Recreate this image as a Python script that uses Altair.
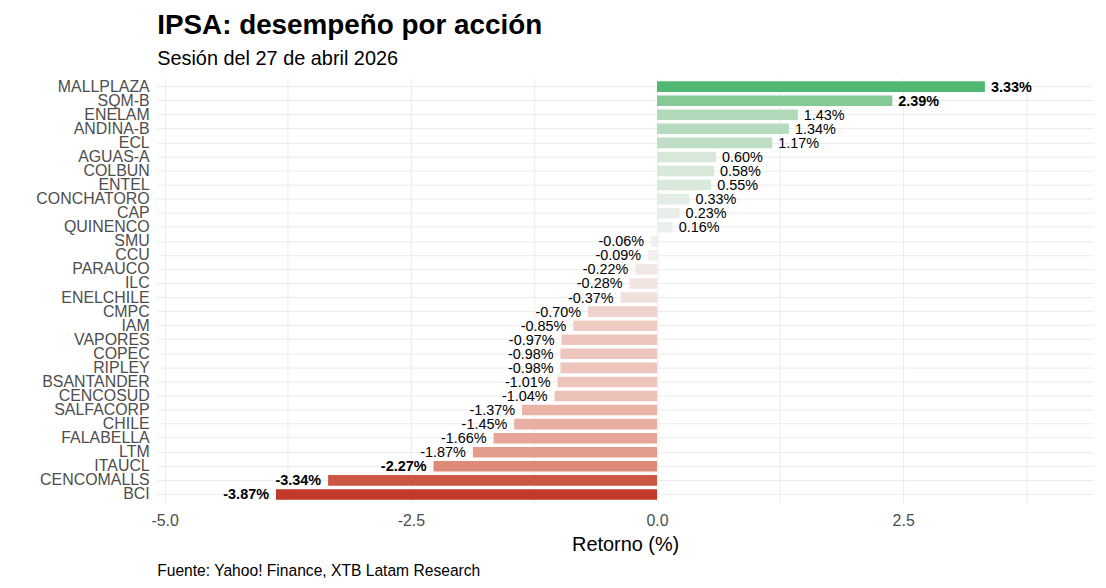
import altair as alt
import pandas as pd

tickers = ["MALLPLAZA", "SQM-B", "ENELAM", "ANDINA-B", "ECL", "AGUAS-A", "COLBUN", "ENTEL",
           "CONCHATORO", "CAP", "QUINENCO", "SMU", "CCU", "PARAUCO", "ILC", "ENELCHILE",
           "CMPC", "IAM", "VAPORES", "COPEC", "RIPLEY", "BSANTANDER", "CENCOSUD",
           "SALFACORP", "CHILE", "FALABELLA", "LTM", "ITAUCL", "CENCOMALLS", "BCI"]
returns = [3.33, 2.39, 1.43, 1.34, 1.17, 0.60, 0.58, 0.55,
           0.33, 0.23, 0.16, -0.06, -0.09, -0.22, -0.28, -0.37,
           -0.70, -0.85, -0.97, -0.98, -0.98, -1.01, -1.04,
           -1.37, -1.45, -1.66, -1.87, -2.27, -3.34, -3.87]
x_ticks = [-5.0, -3.75, -2.5, -1.25, 0.0, 1.25, 2.5, 3.75]

title_text = "IPSA: desempeño por acción"
subtitle_text = "Sesión del 27 de abril 2026"
caption_text = "Fuente: Yahoo! Finance, XTB Latam Research"
x_title = "Retorno (%)"

df = pd.DataFrame({
    "ticker": tickers,
    "ret": returns,
    "label": [f"{v:.2f}%" for v in returns],
})

FONT = "Liberation Sans"
W, H = 941, 427
maxabs = max(abs(v) for v in returns)
lo, hi = min(returns) * 1.2, max(returns) * 1.2
pad = (hi - lo) * 0.05

y_enc = alt.Y("ticker:N", sort=tickers,
              scale=alt.Scale(paddingInner=0.25, paddingOuter=0.225),
              axis=alt.Axis(title=None, ticks=False, domain=False, grid=True,
                            bandPosition=0.5, gridColor="#EBEBEB", gridWidth=1,
                            labelColor="#4D4D4D", labelFontSize=16, labelFont=FONT,
                            labelPadding=8))
x_enc = alt.X("ret:Q",
              scale=alt.Scale(domain=[lo - pad, hi + pad], nice=False, zero=False),
              axis=alt.Axis(values=x_ticks, title=x_title, ticks=False, domain=False,
                            grid=True, gridColor="#EBEBEB", gridWidth=1,
                            labelExpr="abs(datum.value % 2.5) < 0.001 ? replace(format(datum.value, '.1f'), '\u2212', '-') : ''",
                            labelColor="#4D4D4D", labelFontSize=16, labelFont=FONT,
                            labelPadding=10, titleFont=FONT, titleFontSize=20,
                            titleFontWeight="normal", titleColor="black", titlePadding=6))

base = alt.Chart(df)

bars = base.mark_bar().encode(
    x=x_enc, y=y_enc,
    color=alt.Color("ret:Q", legend=None,
                    scale=alt.Scale(domain=[-maxabs, 0, maxabs],
                                    range=["#C0392B", "#F2F2F2", "#27AE60"],
                                    interpolate="lab")),
)

def lbl(filt, align, dx, weight):
    return base.mark_text(align=align, baseline="middle", dx=dx, dy=1, fontSize=14.5,
                          font=FONT, fontWeight=weight, color="black").encode(
        x="ret:Q", y=alt.Y("ticker:N", sort=tickers), text="label:N"
    ).transform_filter(filt)

t1 = lbl("datum.ret >= 0 && abs(datum.ret) <= 2", "left", 6, "normal")
t2 = lbl("datum.ret >= 0 && abs(datum.ret) > 2", "left", 6, "bold")
t3 = lbl("datum.ret < 0 && abs(datum.ret) <= 2", "right", -7, "normal")
t4 = lbl("datum.ret < 0 && abs(datum.ret) > 2", "right", -7, "bold")

cap = alt.Chart(pd.DataFrame({"c": [caption_text]})).mark_text(
    align="left", baseline="middle", fontSize=15.7, font=FONT, color="black"
).encode(x=alt.value(0), y=alt.value(H + 69), text="c:N")

chart = alt.layer(bars, t1, t2, t3, t4, cap).properties(
    width=W, height=H,
    padding={"left": 27, "top": 2, "right": 5, "bottom": 5},
    background="white",
    title=alt.TitleParams(text=title_text, subtitle=subtitle_text, anchor="start",
                          frame="group", font=FONT, fontSize=28, fontWeight="bold",
                          color="black", subtitleFont=FONT, subtitleFontSize=20,
                          subtitleColor="black", subtitlePadding=9, offset=9),
).configure_view(stroke=None)

chart.save("out.html", embed_options={"renderer": "svg", "actions": False})
